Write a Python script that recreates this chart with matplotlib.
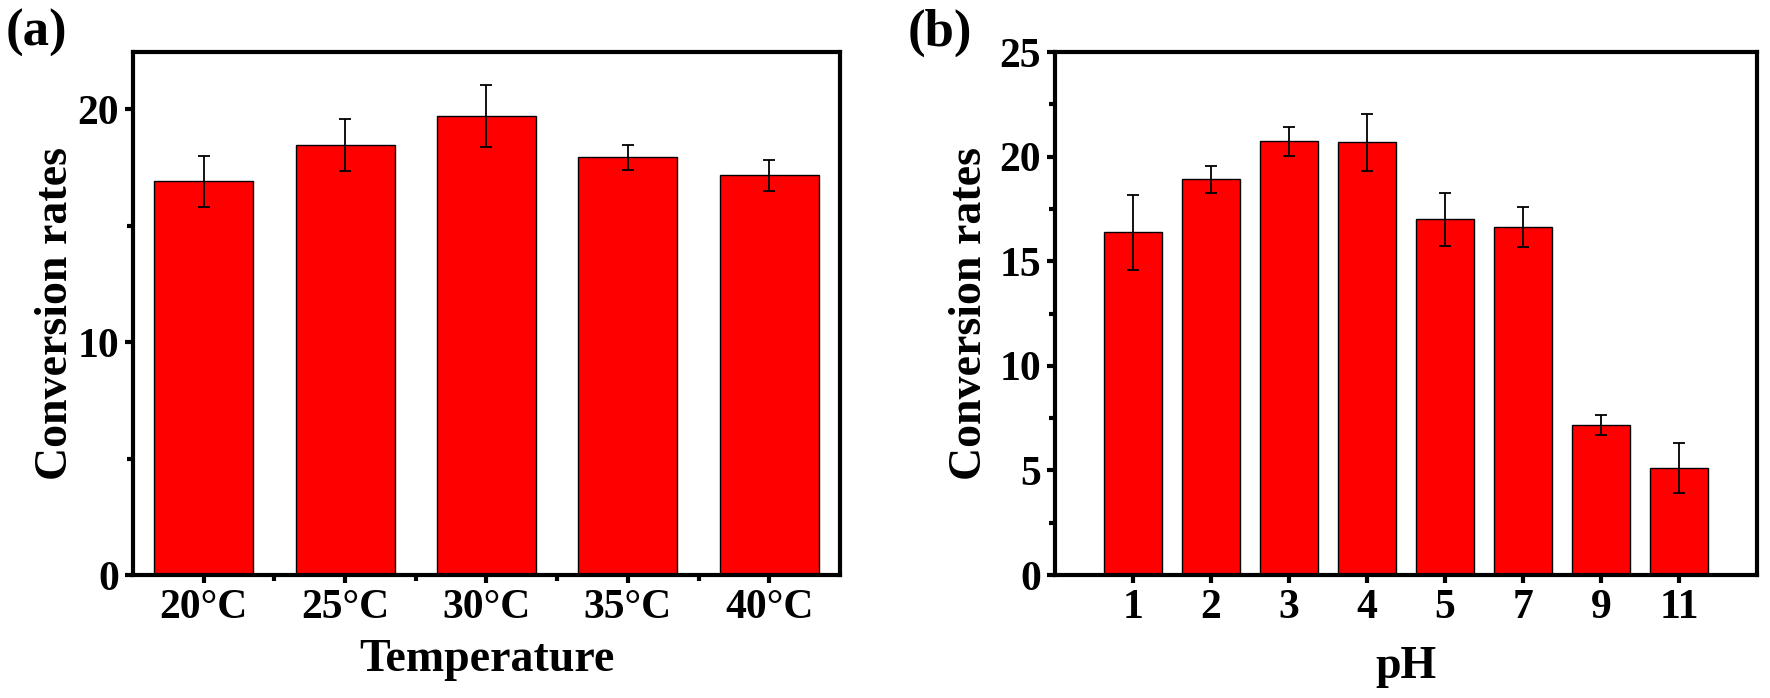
import numpy as np
import matplotlib
matplotlib.use("Agg")
import matplotlib.pyplot as plt
from matplotlib.ticker import MultipleLocator, FixedLocator

plt.rcParams['font.family'] = ['Liberation Serif', 'DejaVu Serif']
plt.rcParams['font.weight'] = 'bold'

# panel (a): temperature
temp_labels = ['20°C', '25°C', '30°C', '35°C', '40°C']
temp_rates = [16.9, 18.45, 19.7, 17.93, 17.16]
temp_err = [1.1, 1.12, 1.34, 0.53, 0.66]

# panel (b): pH
ph_labels = ['1', '2', '3', '4', '5', '7', '9', '11']
ph_rates = [16.38, 18.91, 20.73, 20.68, 17.0, 16.65, 7.19, 5.1]
ph_err = [1.8, 0.64, 0.68, 1.35, 1.28, 0.96, 0.48, 1.2]


def style_axes(ax):
    for sp in ax.spines.values():
        sp.set_linewidth(3)
    ax.tick_params(which='major', direction='out', length=6, width=3,
                   labelsize=30, pad=4)
    ax.tick_params(which='minor', direction='out', length=4, width=3)
    for lab in ax.get_xticklabels() + ax.get_yticklabels():
        lab.set_fontweight('bold')


def bar_panel(ax, labels, values, errors, width):
    x = np.arange(1, len(labels) + 1)
    ax.bar(x, values, width=width, color='#ff0000', edgecolor='black',
           linewidth=1, zorder=2)
    ax.errorbar(x, values, yerr=errors, fmt='none', ecolor='black',
                elinewidth=1.3, capsize=4, capthick=1.3, zorder=3)
    ax.set_xticks(x)
    ax.set_xticklabels(labels)
    return x


fig = plt.figure(figsize=(17.7, 6.98), dpi=100)

ax1 = fig.add_axes([0.0751, 0.1762, 0.3995, 0.7493])
x1 = bar_panel(ax1, temp_labels, temp_rates, temp_err, 0.70)
ax1.set_xlim(0.5, 5.5)
ax1.set_ylim(0, 22.45)
ax1.yaxis.set_major_locator(MultipleLocator(10))
ax1.yaxis.set_minor_locator(MultipleLocator(5))
ax1.xaxis.set_minor_locator(FixedLocator(x1[:-1] + 0.5))
ax1.set_xlabel('Temperature', fontsize=33, fontweight='bold', labelpad=9)
ax1.set_ylabel('Conversion rates', fontsize=33, fontweight='bold', labelpad=0)
style_axes(ax1)

ax2 = fig.add_axes([0.5960, 0.1762, 0.3967, 0.7493])
bar_panel(ax2, ph_labels, ph_rates, ph_err, 0.75)
ax2.set_xlim(0, 9)
ax2.set_ylim(0, 25)
ax2.yaxis.set_major_locator(MultipleLocator(5))
ax2.yaxis.set_minor_locator(MultipleLocator(2.5))
ax2.set_xlabel('pH', fontsize=33, fontweight='bold', labelpad=14)
ax2.set_ylabel('Conversion rates', fontsize=33, fontweight='bold', labelpad=6)
style_axes(ax2)

fig.text(0.003, 0.953, '(a)', fontsize=38, fontweight='bold', va='center', ha='left')
fig.text(0.513, 0.953, '(b)', fontsize=38, fontweight='bold', va='center', ha='left')

fig.savefig('out.png', dpi=100)
